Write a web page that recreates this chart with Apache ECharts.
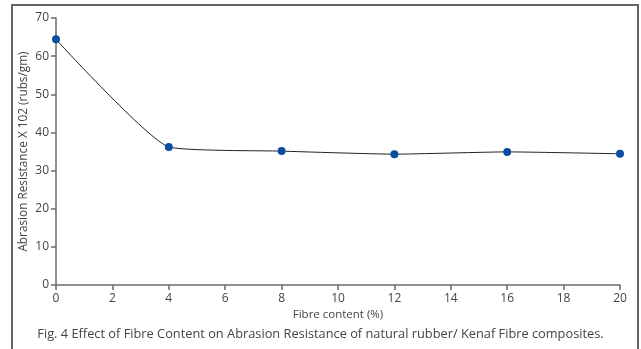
<!DOCTYPE html>
<html>
<head>
<meta charset="utf-8">
<script src="https://cdn.jsdelivr.net/npm/echarts@6/dist/echarts.min.js"></script>
<style>
  html, body { margin: 0; padding: 0; background: #fff; }
  #chart { width: 641px; height: 349px; }
</style>
</head>
<body>
<div id="chart"></div>
<script>
// values
const fibreContent = [0, 4, 8, 12, 16, 20]
const abrasion = [64.4, 36.2, 35.1, 34.3, 34.9, 34.4]
const captionText = 'Fig. 4 Effect of Fibre Content on Abrasion Resistance of natural rubber/ Kenaf Fibre composites.'

const textColor = '#444'
const axisColor = '#6b6b6b'
const font = 'Open Sans'

const chart = echarts.init(document.getElementById('chart'))

chart.setOption({
  backgroundColor: '#fff',
  animation: false,
  grid: {
    left: 56,
    right: 21,
    top: 18,
    bottom: 64
  },
  graphic: [
    {
      // frame round the figure
      type: 'rect',
      shape: { x: 12, y: 5, width: 626, height: 360 },
      style: { fill: 'none', stroke: '#666', lineWidth: 2 }
    },
    {
      type: 'text',
      left: 'center',
      top: 328,
      style: {
        text: captionText,
        fill: textColor,
        font: '12.8px "' + font + '"'
      }
    }
  ],
  xAxis: {
    type: 'value',
    min: 0,
    max: 20,
    interval: 2,
    name: 'Fibre content (%)',
    nameLocation: 'middle',
    nameGap: 24,
    nameMoveOverlap: false,
    nameTextStyle: { color: textColor, fontSize: 11.5, fontFamily: font },
    axisLine: { show: true, lineStyle: { color: axisColor, width: 1.5 } },
    axisTick: { show: true, length: 5, lineStyle: { color: axisColor, width: 1.5 } },
    axisLabel: { color: textColor, fontSize: 12, fontFamily: font, margin: 8 },
    splitLine: { show: false }
  },
  yAxis: {
    type: 'value',
    min: 0,
    max: 70,
    interval: 10,
    name: 'Abrasion Resistance X 102 (rubs/gm)',
    nameLocation: 'middle',
    nameGap: 26,
    nameMoveOverlap: false,
    nameTextStyle: { color: textColor, fontSize: 11.8, fontFamily: font },
    axisLine: { show: true, lineStyle: { color: axisColor, width: 1.5 } },
    axisTick: { show: true, length: 5, lineStyle: { color: axisColor, width: 1.5 } },
    axisLabel: { color: textColor, fontSize: 12, fontFamily: font, margin: 7 },
    splitLine: { show: false }
  },
  series: [
    {
      type: 'line',
      data: fibreContent.map((x, i) => [x, abrasion[i]]),
      smooth: 0.15,
      symbol: 'circle',
      symbolSize: 8,
      itemStyle: { color: '#0a4ea2' },
      lineStyle: { color: '#222', width: 1 }
    }
  ]
})
</script>
</body>
</html>
